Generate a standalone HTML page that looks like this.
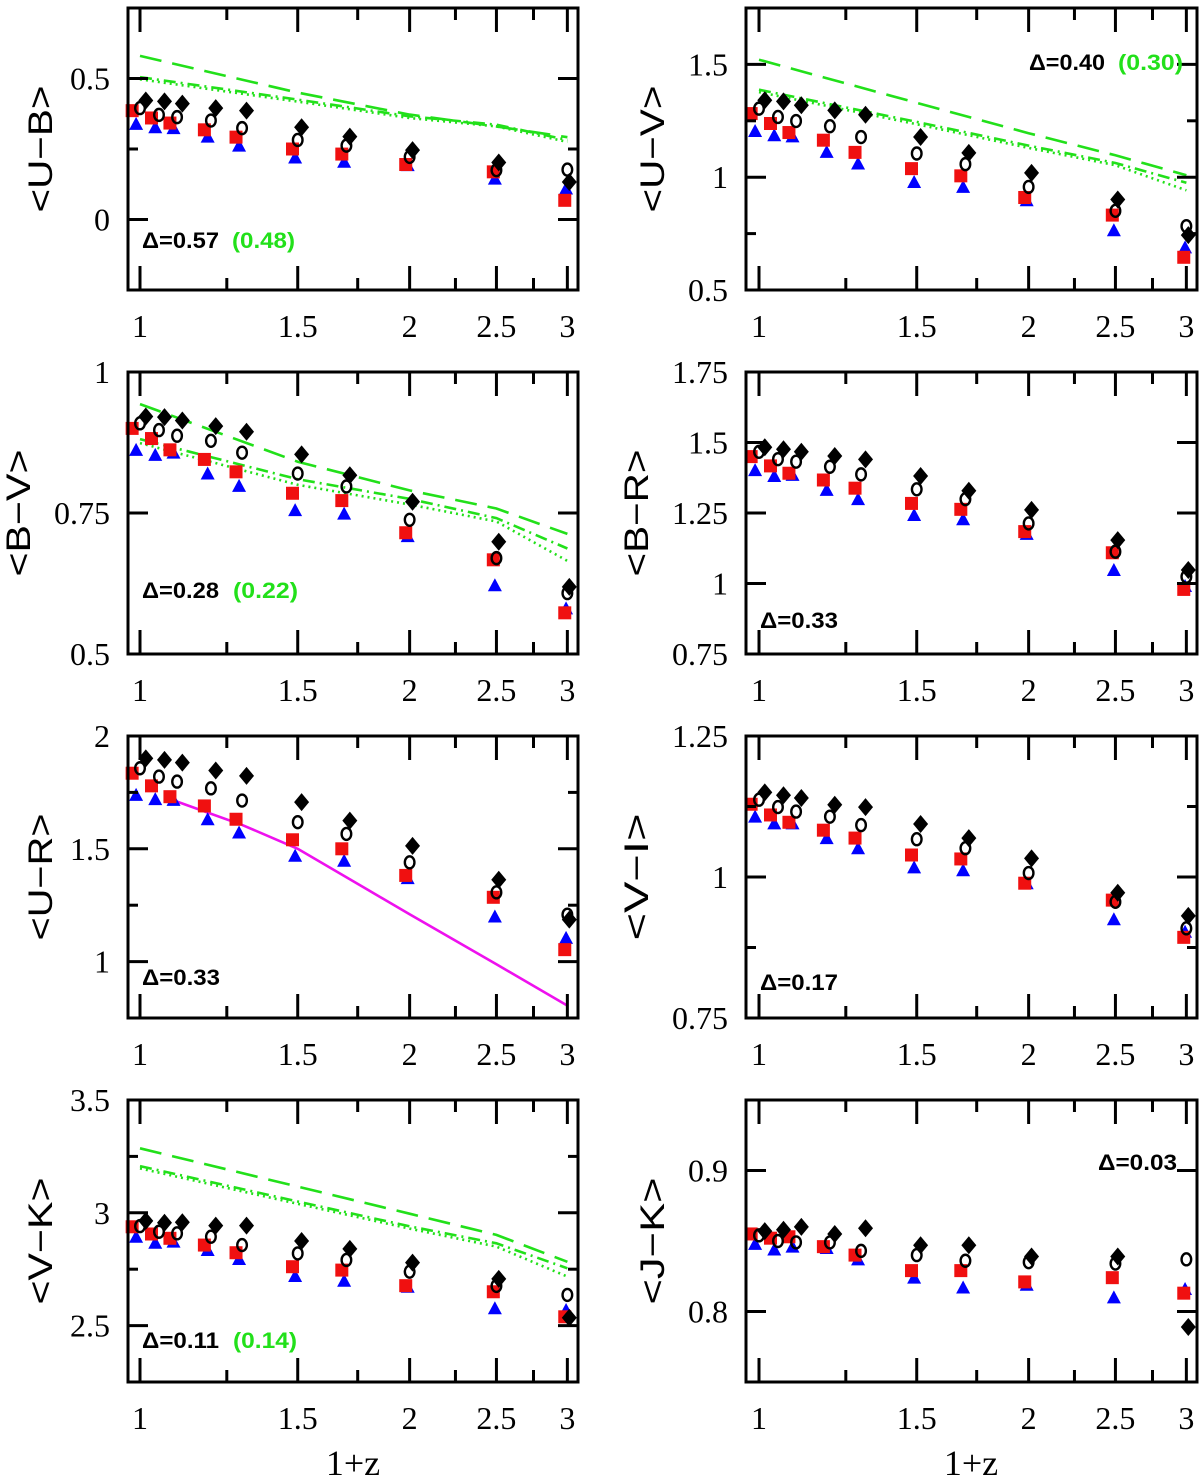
<!DOCTYPE html>
<html><head><meta charset="utf-8"><style>
html,body{margin:0;padding:0;background:#fff;}
svg{display:block;}
.tk{font-family:"Liberation Serif",serif;font-size:32px;fill:#000;}
.yt{font-family:"Liberation Sans",sans-serif;font-size:34px;fill:#000;}
.dl{font-family:"Liberation Sans",sans-serif;font-size:22px;font-weight:bold;}
</style></head><body>
<svg id="fig" width="1200" height="1478" viewBox="0 0 1200 1478" xmlns="http://www.w3.org/2000/svg"></svg>
<script>
const zValues = [1.0, 1.05, 1.1, 1.2, 1.3, 1.5, 1.7, 2.0, 2.5, 3.0];
const xTickLabels = ["1", "1.5", "2", "2.5", "3"];
const xTickValues = [1, 1.5, 2, 2.5, 3];
const xMinorValues = [1.25, 1.75, 2.25, 2.75];
const greenZ = [1, 1.5, 2, 2.5, 3];

const ubSquares = [0.386,0.360,0.342,0.318,0.292,0.250,0.232,0.195,0.169,0.068];
const ubTriangles = [0.339,0.327,0.324,0.294,0.262,0.220,0.205,0.193,0.145,0.110];
const ubCircles = [0.395,0.371,0.363,0.351,0.324,0.282,0.262,0.222,0.175,0.177];
const ubDiamonds = [0.422,0.419,0.411,0.395,0.386,0.327,0.294,0.246,0.202,0.133];
const ubDashed = [0.58,0.45,0.372,0.33,0.292];
const ubDashDot = [0.505,0.425,0.366,0.336,0.282];
const ubDotted = [0.497,0.418,0.36,0.33,0.275];

const uvSquares = [1.282,1.238,1.198,1.164,1.110,1.038,1.006,0.910,0.832,0.645];
const uvTriangles = [1.205,1.186,1.181,1.112,1.061,0.979,0.957,0.898,0.765,0.689];
const uvCircles = [1.304,1.267,1.249,1.226,1.178,1.105,1.058,0.957,0.851,0.783];
const uvDiamonds = [1.341,1.336,1.319,1.296,1.277,1.178,1.108,1.019,0.901,0.743];
const uvDashed = [1.521,1.33,1.195,1.097,1.009];
const uvDashDot = [1.388,1.245,1.14,1.063,0.975];
const uvDotted = [1.377,1.235,1.13,1.053,0.942];

const bvSquares = [0.900,0.882,0.862,0.845,0.823,0.785,0.772,0.715,0.667,0.573];
const bvTriangles = [0.862,0.853,0.857,0.820,0.798,0.755,0.749,0.709,0.622,0.581];
const bvCircles = [0.909,0.897,0.887,0.878,0.857,0.820,0.797,0.738,0.670,0.608];
const bvDiamonds = [0.921,0.920,0.914,0.904,0.894,0.854,0.817,0.770,0.699,0.619];
const bvDashed = [0.943,0.841,0.79,0.758,0.713];
const bvDashDot = [0.881,0.81,0.775,0.741,0.687];
const bvDotted = [0.874,0.80,0.765,0.735,0.665];

const brSquares = [1.450,1.417,1.391,1.367,1.338,1.284,1.263,1.184,1.109,0.979];
const brTriangles = [1.402,1.381,1.385,1.332,1.299,1.243,1.228,1.176,1.048,0.991];
const brCircles = [1.467,1.441,1.432,1.414,1.387,1.334,1.299,1.213,1.113,1.024];
const brDiamonds = [1.483,1.476,1.467,1.452,1.440,1.381,1.329,1.261,1.154,1.048];

const urSquares = [1.835,1.779,1.731,1.690,1.631,1.540,1.500,1.382,1.285,1.053];
const urTriangles = [1.739,1.720,1.717,1.631,1.572,1.469,1.447,1.370,1.200,1.105];
const urCircles = [1.857,1.820,1.798,1.768,1.714,1.618,1.566,1.440,1.307,1.208];
const urDiamonds = [1.901,1.894,1.882,1.847,1.823,1.707,1.625,1.513,1.363,1.186];
const magentaZ = [1.1, 1.3, 1.5, 2, 2.5, 3];
const magentaV = [1.709, 1.606, 1.5, 1.21, 0.988, 0.805];

const viSquares = [1.129,1.110,1.097,1.083,1.069,1.039,1.032,0.989,0.959,0.893];
const viTriangles = [1.107,1.095,1.095,1.069,1.051,1.017,1.012,0.989,0.925,0.903];
const viCircles = [1.137,1.124,1.116,1.107,1.092,1.067,1.051,1.007,0.956,0.909];
const viDiamonds = [1.150,1.145,1.140,1.128,1.124,1.094,1.069,1.033,0.972,0.931];

const vkSquares = [2.938,2.906,2.887,2.857,2.823,2.761,2.746,2.677,2.650,2.539];
const vkTriangles = [2.894,2.867,2.872,2.835,2.795,2.720,2.699,2.672,2.577,2.569];
const vkCircles = [2.941,2.916,2.909,2.894,2.857,2.820,2.791,2.739,2.676,2.636];
const vkDiamonds = [2.964,2.956,2.958,2.943,2.943,2.875,2.840,2.779,2.707,2.535];
const vkDashed = [3.286,3.116,2.996,2.902,2.783];
const vkDashDot = [3.207,3.05,2.94,2.865,2.754];
const vkDotted = [3.197,3.04,2.93,2.850,2.717];

const jkSquares = [0.855,0.852,0.853,0.846,0.840,0.829,0.829,0.821,0.824,0.813];
const jkTriangles = [0.848,0.844,0.846,0.845,0.837,0.824,0.817,0.819,0.810,0.816];
const jkCircles = [0.854,0.850,0.849,0.849,0.843,0.840,0.836,0.835,0.834,0.837];
const jkDiamonds = [0.857,0.858,0.860,0.855,0.859,0.847,0.847,0.839,0.839,0.789];

const ubTicks = ["0", "0.5"]; const ubMinor = [-0.25, 0.25, 0.75];
const uvTicks = ["0.5", "1", "1.5"]; const uvMinor = [0.75, 1.25, 1.75];
const bvTicks = ["0.5", "0.75", "1"]; const bvMinor = [];
const brTicks = ["0.75", "1", "1.25", "1.5", "1.75"]; const brMinor = [];
const urTicks = ["1", "1.5", "2"]; const urMinor = [0.75, 1.25, 1.75];
const viTicks = ["0.75", "1", "1.25"]; const viMinor = [0.875, 1.125];
const vkTicks = ["2.5", "3", "3.5"]; const vkMinor = [2.25, 2.75, 3.25];
const jkTicks = ["0.8", "0.9"]; const jkMinor = [];

const panels = [
 {name:"u-b", title:"<U\u2212B>", col:0,row:0,yMin:-0.25,yMax:0.75,ticks:ubTicks,minor:ubMinor,s:ubSquares,t:ubTriangles,c:ubCircles,d:ubDiamonds,g:[ubDashed,ubDashDot,ubDotted],tx:41,
  delta:{x:142,y:248,a:"\u0394=0.57",aw:77,b:"(0.48)",bx:232,bw:63}},
 {name:"u-v", title:"<U\u2212V>", col:1,row:0,yMin:0.5,yMax:1.75,ticks:uvTicks,minor:uvMinor,s:uvSquares,t:uvTriangles,c:uvCircles,d:uvDiamonds,g:[uvDashed,uvDashDot,uvDotted],tx:653,
  delta:{x:1029,y:70,a:"\u0394=0.40",aw:76,b:"(0.30)",bx:1118,bw:65}},
 {name:"b-v", title:"<B\u2212V>", col:0,row:1,yMin:0.5,yMax:1,ticks:bvTicks,minor:bvMinor,s:bvSquares,t:bvTriangles,c:bvCircles,d:bvDiamonds,g:[bvDashed,bvDashDot,bvDotted],tx:19,
  delta:{x:142,y:598,a:"\u0394=0.28",aw:77,b:"(0.22)",bx:233,bw:65}},
 {name:"b-r", title:"<B\u2212R>", col:1,row:1,yMin:0.75,yMax:1.75,ticks:brTicks,minor:brMinor,s:brSquares,t:brTriangles,c:brCircles,d:brDiamonds,g:null,tx:637,
  delta:{x:760,y:628,a:"\u0394=0.33",aw:78}},
 {name:"u-r", title:"<U\u2212R>", col:0,row:2,yMin:0.75,yMax:2,ticks:urTicks,minor:urMinor,s:urSquares,t:urTriangles,c:urCircles,d:urDiamonds,g:null,tx:41,
  delta:{x:142,y:985,a:"\u0394=0.33",aw:78}},
 {name:"v-i", title:"<V\u2212I>", col:1,row:2,yMin:0.75,yMax:1.25,ticks:viTicks,minor:viMinor,s:viSquares,t:viTriangles,c:viCircles,d:viDiamonds,g:null,tx:637,
  delta:{x:760,y:990,a:"\u0394=0.17",aw:78}},
 {name:"v-k", title:"<V\u2212K>", col:0,row:3,yMin:2.25,yMax:3.5,ticks:vkTicks,minor:vkMinor,s:vkSquares,t:vkTriangles,c:vkCircles,d:vkDiamonds,g:[vkDashed,vkDashDot,vkDotted],tx:41,
  delta:{x:142,y:1348,a:"\u0394=0.11",aw:77,b:"(0.14)",bx:233,bw:64}},
 {name:"j-k", title:"<J\u2212K>", col:1,row:3,yMin:0.75,yMax:0.95,ticks:jkTicks,minor:jkMinor,s:jkSquares,t:jkTriangles,c:jkCircles,d:jkDiamonds,g:null,tx:653,
  delta:{x:1098,y:1170,a:"\u0394=0.03",aw:79}}
];

const NS = "http://www.w3.org/2000/svg";
const fig = document.getElementById("fig");
function mk(tag, attrs, parent){ const e=document.createElementNS(NS,tag); for(const k in attrs) e.setAttribute(k,attrs[k]); (parent||fig).appendChild(e); return e; }

const SCALE = 389;
function xScale(col, v){ return (col===0?140:759) + SCALE*Math.log(v); }
const offS = -0.02, offT = -0.01, offC = 0.0, offD = 0.015;

panels.forEach(p=>{
  const L = p.col===0?128:746, R = p.col===0?578:1197;
  const T = 8 + p.row*364, B = T + 282;
  const yScale = v => B - (v - p.yMin)/(p.yMax - p.yMin)*(B - T);
  const xs = v => xScale(p.col, v);
  const g = mk("g", {});
  
  

  if(p.g){
    const styles = [["22 11","dashed"],["12 5 2 5","dash-dot"],["2 4","dotted"]];
    p.g.forEach((arr,i)=>{
      const pts = greenZ.map((z,j)=>xs(z).toFixed(1)+","+yScale(arr[j]).toFixed(1)).join(" ");
      const pl = mk("polyline",{points:pts,fill:"none",stroke:"#22e01a","stroke-width":2.6,"stroke-dasharray":styles[i][0]},g);
      
      
    });
  }
  if(p.name==="u-r"){
    const pts = magentaZ.map((z,j)=>xs(z).toFixed(1)+","+yScale(magentaV[j]).toFixed(1)).join(" ");
    const pl = mk("polyline",{points:pts,fill:"none",stroke:"#ee11ee","stroke-width":2.6},g);
    
    
  }

  zValues.forEach((z,i)=>{
    const tx = xs(z+offT), ty = yScale(p.t[i]);
    const tri = mk("polygon",{points:`${tx-7},${ty+6} ${tx+7},${ty+6} ${tx},${ty-7}`,fill:"#0000ff"},g);
    
    
  });
  zValues.forEach((z,i)=>{
    const sx = xs(z+offS), sy = yScale(p.s[i]);
    const sq = mk("rect",{x:sx-6.5,y:sy-6.5,width:13,height:13,fill:"#f01010"},g);
    
    
  });
  zValues.forEach((z,i)=>{
    const cx = xs(z+offC), cy = yScale(p.c[i]);
    const ci = mk("ellipse",{cx:cx,cy:cy,rx:4.8,ry:6,fill:"none",stroke:"#000","stroke-width":2.4},g);
    
    
  });
  zValues.forEach((z,i)=>{
    const dx = xs(z+offD), dy = yScale(p.d[i]);
    const di = mk("polygon",{points:`${dx},${dy-9} ${dx+7.5},${dy} ${dx},${dy+9} ${dx-7.5},${dy}`,fill:"#000"},g);
    
    
  });

  const fr = mk("rect",{x:L,y:T,width:R-L,height:B-T,fill:"none",stroke:"#000","stroke-width":3},g);
  
  

  xTickValues.forEach((v,i)=>{
    const x = xs(v);
    mk("line",{x1:x,y1:B,x2:x,y2:B-24,stroke:"#000","stroke-width":3},g);
    mk("line",{x1:x,y1:T,x2:x,y2:T+24,stroke:"#000","stroke-width":3},g);
    const t = mk("text",{x:x,y:B+47,"text-anchor":"middle",class:"tk"},g);
    t.textContent = xTickLabels[i];
    
    
  });
  xMinorValues.forEach(v=>{
    const x = xs(v);
    mk("line",{x1:x,y1:B,x2:x,y2:B-12,stroke:"#000","stroke-width":3},g);
    mk("line",{x1:x,y1:T,x2:x,y2:T+12,stroke:"#000","stroke-width":3},g);
  });
  p.ticks.forEach(lbl=>{
    const y = yScale(parseFloat(lbl));
    mk("line",{x1:L,y1:y,x2:L+20,y2:y,stroke:"#000","stroke-width":3},g);
    mk("line",{x1:R,y1:y,x2:R-20,y2:y,stroke:"#000","stroke-width":3},g);
    const t = mk("text",{x:L-18,y:y+11,"text-anchor":"end",class:"tk"},g);
    t.textContent = lbl;
    
    
  });
  p.minor.forEach(v=>{
    const y = yScale(v);
    mk("line",{x1:L,y1:y,x2:L+10,y2:y,stroke:"#000","stroke-width":3},g);
    mk("line",{x1:R,y1:y,x2:R-10,y2:y,stroke:"#000","stroke-width":3},g);
  });
  const cy = (T+B)/2;
  const yt = mk("text",{x:0,y:0,"text-anchor":"middle",class:"yt",transform:`translate(${p.tx+11},${cy}) rotate(-90)`,textLength:127,lengthAdjust:"spacingAndGlyphs"},g);
  yt.textContent = p.title;
  
  
  const d = p.delta;
  const da = mk("text",{x:d.x,y:d.y,class:"dl",fill:"#000",textLength:d.aw,lengthAdjust:"spacingAndGlyphs"},g);
  da.textContent = d.a;
  
  
  if(d.b){
    const db = mk("text",{x:d.bx,y:d.y,class:"dl",fill:"#22e01a",textLength:d.bw,lengthAdjust:"spacingAndGlyphs"},g);
    db.textContent = d.b;
    
    
  }
});

[[353,"x-axis-title-left"],[971,"x-axis-title-right"]].forEach(a=>{
  const t = mk("text",{x:a[0],y:1475,"text-anchor":"middle",class:"tk",style:"font-size:36px"});
  t.textContent = "1+z";
  
  
});
</script>
</body></html>
